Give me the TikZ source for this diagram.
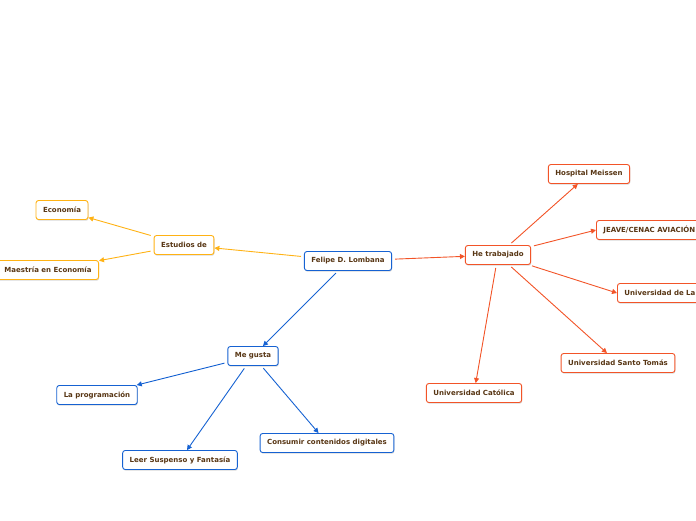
\documentclass[tikz,border=0pt]{standalone}
\usepackage{fontspec}
\setsansfont{DejaVu Sans}
\usepackage{xcolor}
\usetikzlibrary{arrows.meta, shadows}

\definecolor{estcol}{RGB}{255,178,20}
\definecolor{workcol}{RGB}{242,84,40}
\definecolor{likecol}{RGB}{22,98,210}
\definecolor{txtcol}{RGB}{88,54,20}

\begin{document}
\begin{tikzpicture}[
    x=1pt, y=-1pt,
    box/.style   = {rectangle, draw, fill=white, rounded corners=2.5pt, line width=0.9pt,
                    minimum height=19pt, inner xsep=7pt, text=txtcol,
                    font=\sffamily\bfseries\fontsize{7}{7.5}\selectfont,
                    drop shadow={shadow xshift=0.6pt, shadow yshift=-1.2pt, opacity=0.3}},
    estbox/.style  = {box, draw=estcol},
    workbox/.style = {box, draw=workcol},
    likebox/.style = {box, draw=likecol},
    arrow/.style = {-{Triangle[length=5pt,width=5pt]}, line width=0.9pt, shorten <=3pt},
  ]
  \useasboundingbox (0,0) rectangle (696,520);

  % centro
  \node[likebox] (felipe) at (348,261) {Felipe D. Lombana};

  % estudios
  \node[estbox] (estudios) at (184,245) {Estudios de};
  \node[estbox] (economia) at (62,210) {Economía};
  \node[estbox, anchor=east] (maestria) at (99,270) {Maestría en Economía};

  % trabajo
  \node[workbox] (trabajo)    at (498,255) {He trabajado};
  \node[workbox] (hospital)   at (589,174) {Hospital Meissen};
  \node[workbox, anchor=west] (jeave) at (596,230) {JEAVE/CENAC AVIACIÓN};
  \node[workbox, anchor=west] (unila) at (617,293) {Universidad de La};
  \node[workbox] (santotomas) at (618,363) {Universidad Santo Tomás};
  \node[workbox] (catolica)   at (474,393) {Universidad Católica};

  % gustos
  \node[likebox] (megusta)      at (253,356) {Me gusta};
  \node[likebox] (programacion) at (97,395)  {La programación};
  \node[likebox] (leer)         at (180,460) {Leer Suspenso y Fantasía};
  \node[likebox] (consumir)     at (327,443) {Consumir contenidos digitales};

  \draw[arrow, estcol] (felipe) -- (estudios);
  \draw[arrow, estcol] (estudios) -- (economia);
  \draw[arrow, estcol] (estudios) -- (maestria);

  \draw[arrow, workcol] (felipe) -- (trabajo);
  \draw[arrow, workcol] (trabajo) -- (hospital);
  \draw[arrow, workcol] (trabajo) -- (jeave.west);
  \draw[arrow, workcol] (trabajo) -- (unila.west);
  \draw[arrow, workcol] (trabajo) -- (santotomas);
  \draw[arrow, workcol] (trabajo) -- (catolica);

  \draw[arrow, likecol] (felipe) -- (megusta);
  \draw[arrow, likecol] (megusta) -- (programacion);
  \draw[arrow, likecol] (megusta) -- (leer);
  \draw[arrow, likecol] (megusta) -- (consumir);
\end{tikzpicture}
\end{document}
